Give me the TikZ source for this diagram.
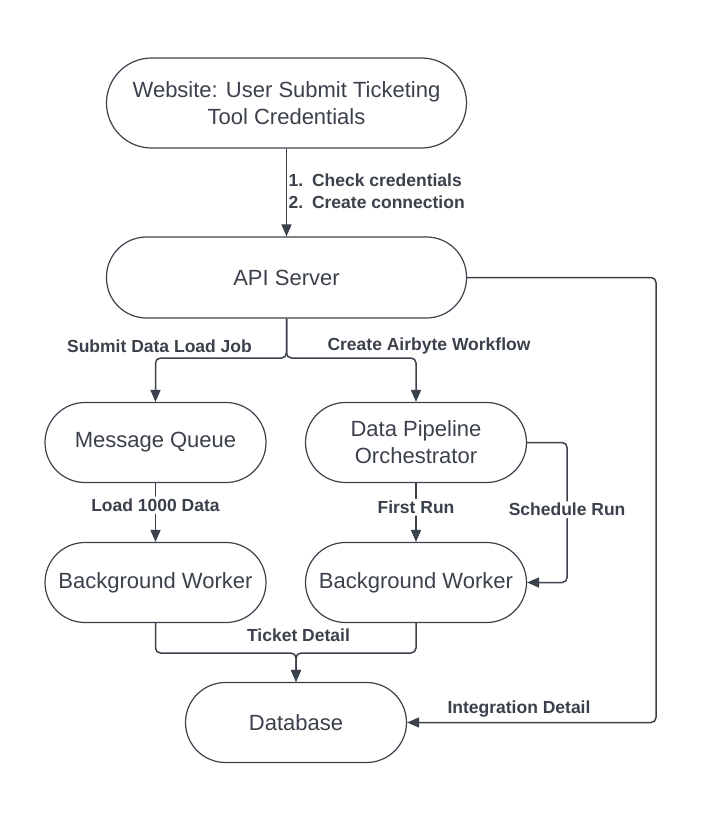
\documentclass[tikz,border=0pt]{standalone}
\usepackage{fontspec}
\setmainfont{Liberation Sans}
\usetikzlibrary{arrows.meta}
\definecolor{ink}{HTML}{3B414B}

\begin{document}
\begin{tikzpicture}[x=1pt, y=-1pt,
    box/.style={draw=ink, line width=1.2pt, rounded corners=40pt, minimum width=221pt,
        minimum height=80pt, inner sep=0pt, align=center, text=ink,
        font=\fontsize{22}{27}\selectfont},
    wide/.style={box, minimum width=360pt},
    link/.style={draw=ink, line width=1.5pt, rounded corners=5pt,
        -{Triangle[length=12pt,width=10pt]}},
    lbl/.style={text=ink, inner sep=2pt, font=\fontsize{17.5}{22}\selectfont\bfseries},
    cut/.style={lbl, fill=white}]
    \useasboundingbox (0,0) rectangle (714,836);

    % Draw Boxes
    \node[wide, minimum height=90pt, rounded corners=45pt] (web) at (286.5,103)
        {Website: User Submit Ticketing\\Tool Credentials};
    \node[wide, minimum height=81pt] (api) at (286.5,277.5) {API Server};
    \node[box] (mq) at (155.5,442.5) {Message Queue};
    \node[box] (dpo) at (416,442.5) {Data Pipeline\\Orchestrator};
    \node[box] (bw1) at (155.5,582.5) {Background Worker};
    \node[box] (bw2) at (416,582.5) {Background Worker};
    \node[box] (db) at (296,722.5) {Database};

    % Branch Points
    \coordinate (split) at (286.5,358);
    \coordinate (merge) at (296,653);
    \coordinate (rim) at (656,500);

    % Draw Connectors
    \draw[link] (web.south) -- (api.north);
    \draw[link] (api.south) -- (split) -| (mq.north);
    \draw[link] (api.south) -- (split) -| (dpo.north);
    \draw[link] (mq.south) -- node[cut, pos=0.375] (l1000) {Load 1000 Data} (bw1.north);
    \draw[link] (dpo.south) -- node[cut, pos=0.41] (lfirst) {First Run} (bw2.north);
    \draw[link] (dpo.east) -- ++(40,0) |- node[cut, pos=0.24] (lsched) {Schedule Run} (bw2.east);
    \draw[link] (bw1.south) |- (merge) -- (db.north);
    \draw[link] (bw2.south) |- (merge) -- (db.north);
    \draw[link] (api.east) -| (rim) |- (db.east);

    % Connector Labels
    % -- top arrow
    \node[lbl, anchor=west, align=left] (lsteps) at (286.5,191)
        {1.\hspace{0.5em}Check credentials\\2.\hspace{0.5em}Create connection};

    % -- split and merge
    \node[lbl] (lsubmit) at (159.5,346) {Submit Data Load Job};
    \node[lbl] (lcreate) at (429,346) {Create Airbyte Workflow};
    \node[lbl] (lticket) at (298.5,635) {Ticket Detail};
    \node[lbl] (lintegr) at (519,709) {Integration Detail};
\end{tikzpicture}
\end{document}
